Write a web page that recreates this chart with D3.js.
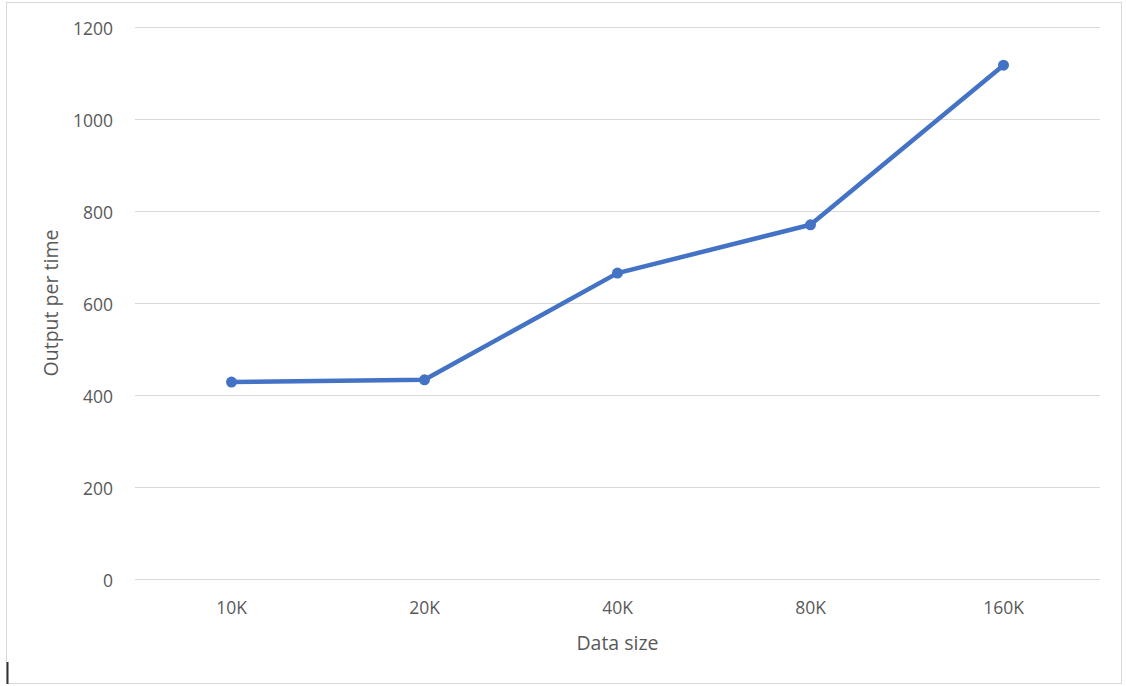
<!DOCTYPE html>
<html lang="en">
<head>
<meta charset="UTF-8">
<title>Output per time</title>
<style>
    body { margin: 0; background: #fff; }
    text { font-family: "Open Sans", sans-serif; fill: #595959; }
    .grid line { stroke: #d9d9d9; stroke-width: 1px; }
</style>
</head>
<body>
<svg width="1126" height="686"></svg>
<script src="https://d3js.org/d3.v7.min.js"></script>
<script>
var categories = ["10K", "20K", "40K", "80K", "160K"];
var values = [428, 433, 665, 770, 1117];
var yTicks = [0, 200, 400, 600, 800, 1000, 1200];

var svg = d3.select("svg");

// outer chart frame
svg.append("rect")
    .attr("x", 6.5).attr("y", 2.5)
    .attr("width", 1115).attr("height", 681)
    .attr("fill", "none")
    .attr("stroke", "#d9d9d9");

var plotLeft = 135, plotRight = 1100, plotTop = 27, plotBottom = 579;

var x = d3.scaleBand()
    .domain(categories)
    .range([plotLeft, plotRight]);

var y = d3.scaleLinear()
    .domain([0, 1200])
    .range([plotBottom, plotTop]);

// gridlines
svg.append("g")
    .attr("class", "grid")
    .selectAll("line")
    .data(yTicks)
    .enter().append("line")
    .attr("x1", plotLeft).attr("x2", plotRight)
    .attr("y1", function (d) { return Math.round(y(d)) + 0.5; })
    .attr("y2", function (d) { return Math.round(y(d)) + 0.5; });

// y axis labels
var yAxis = svg.append("g")
    .attr("transform", "translate(113,0)")
    .call(d3.axisLeft(y).tickValues(yTicks).tickFormat(d3.format("d")).tickSize(0).tickPadding(0));
yAxis.select(".domain").remove();
yAxis.selectAll("text")
    .attr("font-family", null)
    .style("font-size", "17.5px")
    .attr("dy", "0.4em");

// x axis labels
var xAxis = svg.append("g")
    .attr("transform", "translate(0," + plotBottom + ")")
    .call(d3.axisBottom(x).tickSize(0).tickPadding(0));
xAxis.select(".domain").remove();
xAxis.selectAll("text")
    .attr("font-family", null)
    .style("font-size", "17.5px")
    .attr("y", 29)
    .attr("dy", "0.35em");

// axis titles
svg.append("text")
    .attr("x", (plotLeft + plotRight) / 2)
    .attr("y", 643)
    .attr("dy", "0.35em")
    .attr("text-anchor", "middle")
    .style("font-size", "19.5px")
    .text("Data size");

svg.append("text")
    .attr("transform", "translate(51," + (plotTop + plotBottom) / 2 + ") rotate(-90)")
    .attr("dy", "0.35em")
    .attr("text-anchor", "middle")
    .style("font-size", "19.5px")
    .text("Output per time");

// series
var pts = categories.map(function (c, i) { return { c: c, v: values[i] }; });

var line = d3.line()
    .x(function (d) { return x(d.c) + x.bandwidth() / 2; })
    .y(function (d) { return y(d.v); });

svg.append("path")
    .datum(pts)
    .attr("d", line)
    .attr("fill", "none")
    .attr("stroke", "#4472c4")
    .attr("stroke-width", 4.5)
    .attr("stroke-linejoin", "round")
    .attr("stroke-linecap", "round");

svg.append("g")
    .selectAll("circle")
    .data(pts)
    .enter().append("circle")
    .attr("cx", function (d) { return x(d.c) + x.bandwidth() / 2; })
    .attr("cy", function (d) { return y(d.v); })
    .attr("r", 5.5)
    .attr("fill", "#4472c4");

// text cursor mark at bottom-left
svg.append("line")
    .attr("x1", 7.5).attr("x2", 7.5)
    .attr("y1", 662).attr("y2", 684)
    .attr("stroke", "#333")
    .attr("stroke-width", 2);
</script>
</body>
</html>
